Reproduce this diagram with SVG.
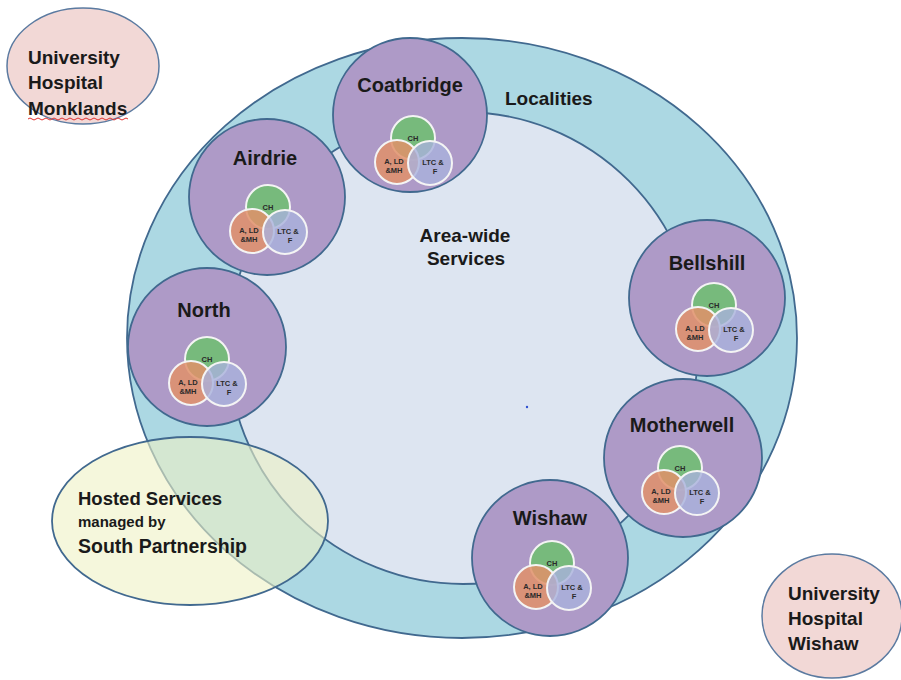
<svg xmlns="http://www.w3.org/2000/svg" width="901" height="680" viewBox="0 0 901 680">
<style>
  text { font-family: "Liberation Sans", Arial, sans-serif; font-weight: bold; fill: #1a1a1a; }
  .loc { fill: #ae9ac7; stroke: #41698f; stroke-width: 1.8; }
  .lbl { font-size: 20px; text-anchor: middle; }
  .ch { fill: #6dbf6f; fill-opacity: 0.85; stroke: #f4f4f4; stroke-width: 2; }
  .ald { fill: #e0916a; fill-opacity: 0.85; stroke: #f4f4f4; stroke-width: 2; }
  .ltc { fill: #a9b2dc; fill-opacity: 0.8; stroke: #f4f4f4; stroke-width: 2; }
  .vt { font-size: 7.5px; text-anchor: middle; fill: #2a2a2a; }
  .hosp { fill: #f2d8d6; stroke: #5b7aa0; stroke-width: 1.5; }
  .ht { font-size: 19px; }
</style>
<defs>
  <g id="venn">
    <circle class="ch" cx="0" cy="0" r="22"/>
    <circle class="ald" cx="-16" cy="24" r="22"/>
    <circle class="ltc" cx="17" cy="25" r="22"/>
    <text class="vt" x="0" y="3">CH</text>
    <text class="vt" x="-19" y="26">A, LD</text>
    <text class="vt" x="-19" y="35">&amp;MH</text>
    <text class="vt" x="20" y="27">LTC &amp;</text>
    <text class="vt" x="22" y="36">F</text>
  </g>
</defs>
<rect x="0" y="0" width="901" height="680" fill="#ffffff"/>

<g id="localities-ring">
  <ellipse cx="462" cy="338" rx="335" ry="300" fill="#acd8e3" stroke="#41698f" stroke-width="1.8"/>
  <text x="505" y="105" style="font-size:19px">Localities</text>
</g>

<g id="area-wide">
  <ellipse cx="463" cy="348" rx="235" ry="236" fill="#dde5f1" stroke="#41698f" stroke-width="1.8"/>
  <text x="465" y="242" style="font-size:19px" text-anchor="middle">Area-wide</text>
  <text x="466" y="265" style="font-size:19px" text-anchor="middle">Services</text>
  <circle cx="527" cy="407" r="1.2" fill="#3050d0"/>
</g>

<g id="coatbridge">
  <circle class="loc" cx="410" cy="115" r="77"/>
  <text class="lbl" x="410" y="92">Coatbridge</text>
  <use href="#venn" x="413" y="138"/>
</g>

<g id="airdrie">
  <circle class="loc" cx="267" cy="197" r="78"/>
  <text class="lbl" x="265" y="165">Airdrie</text>
  <use href="#venn" x="268" y="207"/>
</g>

<g id="north">
  <circle class="loc" cx="207" cy="347" r="79"/>
  <text class="lbl" x="204" y="317">North</text>
  <use href="#venn" x="207" y="359"/>
</g>

<g id="bellshill">
  <circle class="loc" cx="707" cy="298" r="78"/>
  <text class="lbl" x="707" y="270">Bellshill</text>
  <use href="#venn" x="714" y="305"/>
</g>

<g id="motherwell">
  <circle class="loc" cx="683" cy="458" r="79"/>
  <text class="lbl" x="682" y="432">Motherwell</text>
  <use href="#venn" x="680" y="468"/>
</g>

<g id="wishaw">
  <circle class="loc" cx="550" cy="558" r="78"/>
  <text class="lbl" x="550" y="525">Wishaw</text>
  <use href="#venn" x="552" y="563"/>
</g>

<g id="hosted-services">
  <ellipse cx="190" cy="521" rx="138" ry="84" fill="#eef2c4" fill-opacity="0.6" stroke="#41698f" stroke-width="1.8"/>
  <text x="78" y="505" style="font-size:18.5px">Hosted Services</text>
  <text x="78" y="527" style="font-size:15px">managed by</text>
  <text x="78" y="553" style="font-size:19.5px">South Partnership</text>
</g>

<g id="hospital-monklands">
  <ellipse class="hosp" cx="83" cy="66" rx="76" ry="58"/>
  <text class="ht" x="28" y="64">University</text>
  <text class="ht" x="28" y="89">Hospital</text>
  <text class="ht" x="28" y="115">Monklands</text>
  <path d="M28 119 q2 -2 4 0 t4 0 t4 0 t4 0 t4 0 t4 0 t4 0 t4 0 t4 0 t4 0 t4 0 t4 0 t4 0 t4 0 t4 0 t4 0 t4 0 t4 0 t4 0 t4 0 t4 0 t4 0 t4 0 t4 0 t4 0" fill="none" stroke="#e03030" stroke-width="1"/>
</g>

<g id="hospital-wishaw">
  <ellipse class="hosp" cx="832" cy="616" rx="70" ry="62"/>
  <text class="ht" x="788" y="600">University</text>
  <text class="ht" x="788" y="625">Hospital</text>
  <text class="ht" x="788" y="650">Wishaw</text>
</g>

<g id="connectors"></g>
</svg>
